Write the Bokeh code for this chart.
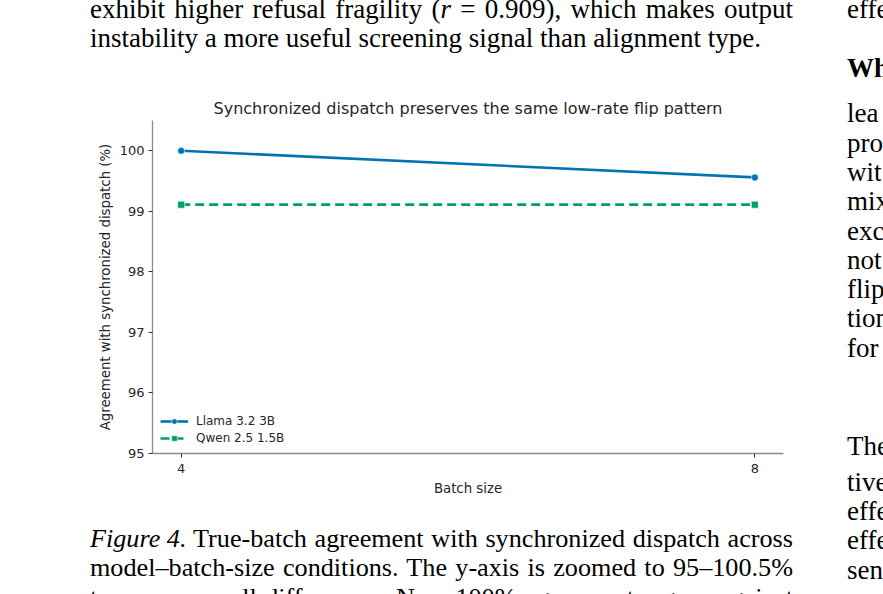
from bokeh.plotting import figure
from bokeh.models import Legend, LegendItem, FixedTicker, Range1d, Div
from bokeh.layouts import row, column
from bokeh.embed import file_html
from bokeh.resources import INLINE

# data
batch_sizes = [4, 8]
llama_agree = [100.0, 99.56]
qwen_agree = [99.11, 99.11]
y_ticks = [95, 96, 97, 98, 99, 100]
x_ticks = [4, 8]

BLUE = "#0173b2"
GREEN = "#029e73"

LEFT_W = 830
TOP_H = 56
FIG_H = 454

p = figure(width=LEFT_W, height=FIG_H,
           x_range=Range1d(3.8, 8.2), y_range=Range1d(95, 100.5),
           output_backend="svg", toolbar_location=None,
           min_border_left=152, min_border_right=47,
           min_border_top=64, min_border_bottom=57)

p.outline_line_color = None
p.xgrid.visible = False
p.ygrid.visible = False

l1 = p.line(batch_sizes, llama_agree, color=BLUE, line_width=2.6)
s1 = p.scatter(batch_sizes, llama_agree, marker="circle", size=7,
               color=BLUE, line_color="white", line_width=0.6)
l2 = p.line(batch_sizes, qwen_agree, color=GREEN, line_width=2.6, line_dash="9 5")
s2 = p.scatter(batch_sizes, qwen_agree, marker="square", size=7,
               color=GREEN, line_color="white", line_width=0.6)

legend = Legend(items=[LegendItem(label="Llama 3.2 3B", renderers=[l1, s1]),
                       LegendItem(label="Qwen 2.5 1.5B", renderers=[l2, s2])],
                location="bottom_left")
legend.border_line_color = None
legend.background_fill_alpha = 0
legend.label_text_font = "DejaVu Sans"
legend.label_text_font_size = "12px"
legend.label_text_color = "#262626"
legend.glyph_width = 28
legend.glyph_height = 14
legend.label_height = 14
legend.label_standoff = 8
legend.spacing = 3
legend.padding = 2
legend.margin = 8
p.add_layout(legend)

for ax in (p.xaxis[0], p.yaxis[0]):
    ax.axis_line_color = "#8c8c8c"
    ax.axis_line_width = 1.3
    ax.major_tick_line_color = "#333333"
    ax.major_tick_out = 4
    ax.major_tick_in = 0
    ax.minor_tick_line_color = None
    ax.major_label_text_font = "DejaVu Sans"
    ax.major_label_text_font_size = "13px"
    ax.major_label_text_color = "#262626"
    ax.axis_label_text_font = "DejaVu Sans"
    ax.axis_label_text_font_size = "13.3px"
    ax.axis_label_text_font_style = "normal"
    ax.axis_label_text_color = "#262626"

p.xaxis.ticker = FixedTicker(ticks=x_ticks)
p.yaxis.ticker = FixedTicker(ticks=y_ticks)
p.xaxis.axis_label = "Batch size"
p.yaxis.axis_label = "Agreement with synchronized dispatch (%)"
p.xaxis.major_label_standoff = 6
p.yaxis.major_label_standoff = 4
p.xaxis.axis_label_standoff = 5
p.yaxis.axis_label_standoff = 4

p.title.text = "Synchronized dispatch preserves the same low-rate flip pattern"
p.title.text_font = "DejaVu Sans"
p.title.text_font_size = "16px"
p.title.text_font_style = "normal"
p.title.text_color = "#262626"
p.title.align = "center"
p.title.standoff = 6


def page_div(lines, w, h):
    # lines: (text, left px, right px or None, centre y px, font px) inside a w x h box
    parts = []
    for txt, left, right, cy, fs in lines:
        size = ""
        if right is not None:
            size = "width:%dpx; text-align:justify; text-align-last:justify;" % (right - left)
        parts.append('<div style="position:absolute; left:%dpx; top:%.1fpx; %s'
                     'line-height:29px; white-space:nowrap; font-size:%.1fpx;">%s</div>'
                     % (left, cy - 14.5, size, fs, txt))
    html = ('<div style="position:relative; width:%dpx; height:%dpx; overflow:hidden; '
            'font-family:\'Liberation Serif\', serif; color:#000000;">%s</div>'
            % (w, h, "".join(parts)))
    return Div(text=html, width=w, height=h, margin=0, styles={"overflow": "hidden"})


BODY = 27.0
CAP = 26.2
top_div = page_div([
    ("exhibit higher refusal fragility (<i>r</i> = 0.909), which makes output", 90, 793, 9, BODY),
    ("instability a more useful screening signal than alignment type.", 90, None, 38, BODY),
], LEFT_W, TOP_H)

cap_y = TOP_H + FIG_H
caption_div = page_div([
    ("<i>Figure 4.</i>", 90, None, 538 - cap_y, CAP),
    ("True-batch agreement with synchronized dispatch across", 193, 793, 538 - cap_y, CAP),
    ("model\u2013batch-size conditions. The y-axis is zoomed to 95\u2013100.5%", 90, 793, 567 - cap_y, CAP),
    ("to expose small differences. Near 100% agreement argues against", 90, 793, 597 - cap_y, CAP),
], LEFT_W, 594 - cap_y)

right_col = [("effe", 9), ("<b>Wh</b>", 68), ("lea", 113),
             ("pro", 143), ("wit", 172), ("mix", 201),
             ("exc", 231), ("not", 260), ("flip", 289),
             ("tion", 318), ("for", 348), ("The", 446),
             ("tive", 482), ("effe", 511), ("effe", 540),
             ("sen", 570)]
right_div = page_div([(t, 17, None, y, BODY) for t, y in right_col], 883 - LEFT_W, 594)

layout = row(column(top_div, p, caption_div, spacing=0), right_div, spacing=0)

open("out.html", "w").write(file_html(layout, INLINE))
